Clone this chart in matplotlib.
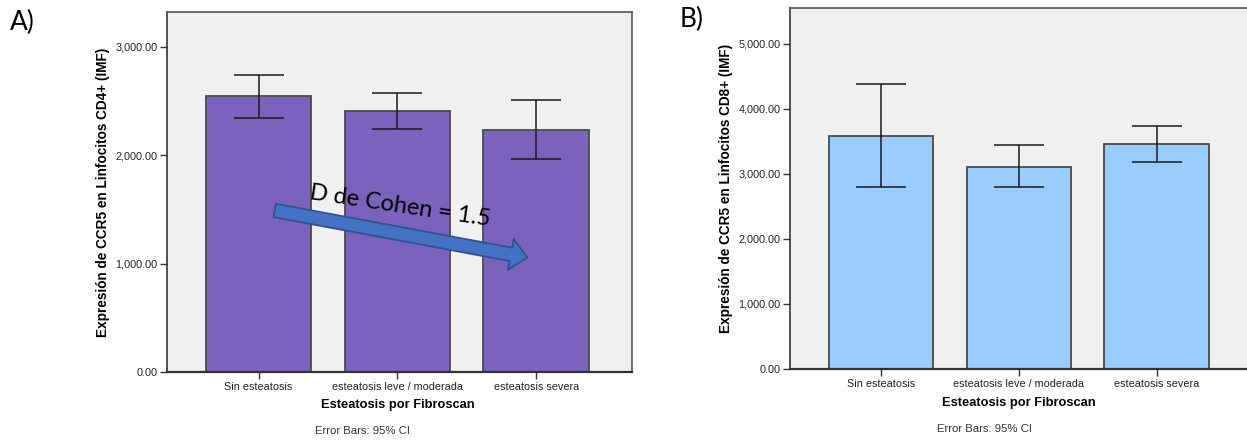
import numpy as np
import matplotlib.pyplot as plt

# categories on the x axis (same in both panels)
categories = ["Sin esteatosis", "esteatosis leve / moderada", "esteatosis severa"]

# panel A: CCR5 on CD4+ (mean, 95% CI)
cd4_mean = [2548, 2410, 2234]
cd4_low = [2345, 2244, 1967]
cd4_high = [2742, 2576, 2511]

# panel B: CCR5 on CD8+ (mean, 95% CI)
cd8_mean = [3585, 3108, 3462]
cd8_low = [2800, 2800, 3185]
cd8_high = [4385, 3446, 3738]

cd4_ticks = [0, 1000, 2000, 3000]
cd8_ticks = [0, 1000, 2000, 3000, 4000, 5000]

narrow = ["Liberation Sans Narrow", "Liberation Sans", "DejaVu Sans"]
calib = ["Lato", "DejaVu Sans"]

fig = plt.figure(figsize=(12.47, 4.41), dpi=100)
ax1 = fig.add_axes([0.1339, 0.1565, 0.3729, 0.8163])
ax2 = fig.add_axes([0.6335, 0.1633, 0.3705, 0.8186])


def draw_panel(ax, mean, low, high, ticks, ylim, color, ylabel, xlim):
    x = np.arange(len(categories))
    mean = np.array(mean)
    yerr = [mean - np.array(low), np.array(high) - mean]
    ax.set_facecolor("#f0f0f0")
    ax.bar(x, mean, width=0.76, color=color, edgecolor="#4a4a4a", linewidth=1.3, zorder=2)
    ax.errorbar(x, mean, yerr=yerr, fmt="none", ecolor="#1a1a1a", elinewidth=1.1,
                capsize=18, capthick=1.1, zorder=3)
    ax.set_xlim(*xlim)
    ax.set_ylim(*ylim)
    ax.set_yticks(ticks)
    ax.set_yticklabels(["{:,.2f}".format(t) for t in ticks], family=narrow, fontsize=7.8, color="#222222")
    ax.set_xticks(x)
    ax.set_xticklabels(categories, family=narrow, fontsize=7.8, color="#222222")
    ax.tick_params(direction="out", length=5, width=1, color="#333333", pad=2)
    ax.set_ylabel(ylabel, family=["Liberation Sans", "DejaVu Sans"], fontweight="bold",
                  fontsize=9.8, labelpad=4)
    for s in ax.spines.values():
        s.set_color("#555555")
        s.set_linewidth(1.2)
    ax.spines["left"].set_color("#333333")
    ax.spines["bottom"].set_color("#333333")
    ax.spines["bottom"].set_linewidth(1.6)
    # x label and footnote
    ax.text(1, -0.093, "Esteatosis por Fibroscan", transform=ax.get_xaxis_transform(),
            ha="center", va="center", family=narrow, fontweight="bold", fontsize=9.3)
    ax.text(0.75, -0.165, "Error Bars: 95% CI", transform=ax.get_xaxis_transform(),
            ha="center", va="center", family=narrow, fontsize=8.2, color="#333333")


draw_panel(ax1, cd4_mean, cd4_low, cd4_high, cd4_ticks, (0, 3323), "#7b63bd",
           "Expresión de CCR5 en Linfocitos CD4+ (IMF)", (-0.66, 2.69))
draw_panel(ax2, cd8_mean, cd8_low, cd8_high, cd8_ticks, (0, 5554), "#99ccff",
           "Expresión de CCR5 en Linfocitos CD8+ (IMF)", (-0.66, 2.69))
ax2.spines["right"].set_visible(False)

# effect size arrow on panel A
ax1.annotate("", xy=(1.955, 1053), xytext=(0.096, 1496),
             arrowprops=dict(arrowstyle="simple,head_length=0.8,head_width=1.5,tail_width=0.65",
                             fc="#4472c4", ec="#2f528f", lw=1.3, mutation_scale=15), zorder=4)
ax1.text(1.02, 1530, "D de Cohen = 1.5", rotation=-8.5, ha="center", va="center",
         family=calib, fontsize=17, color="black", zorder=5, rotation_mode="anchor")

fig.text(0.008, 0.95, "A)", family=calib, fontsize=19, ha="left", va="center")
fig.text(0.545, 0.955, "B)", family=calib, fontsize=19, ha="left", va="center")

fig.savefig("out.png", dpi=100)
